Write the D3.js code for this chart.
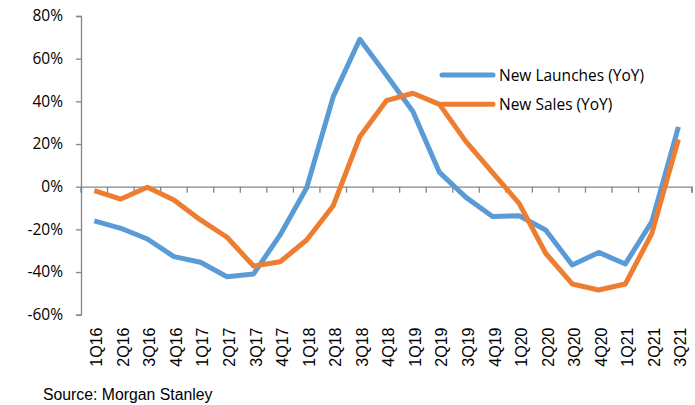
<!DOCTYPE html>
<html>
<head>
<meta charset="utf-8">
<script src="https://cdn.jsdelivr.net/npm/d3@7"></script>
<style>
  body { margin: 0; background: #fff; }
  svg { display: block; }
</style>
</head>
<body>
<div id="chart"></div>
<script>
// quarters on the x axis
let quarters = ["1Q16","2Q16","3Q16","4Q16","1Q17","2Q17","3Q17","4Q17","1Q18","2Q18","3Q18","4Q18",
                "1Q19","2Q19","3Q19","4Q19","1Q20","2Q20","3Q20","4Q20","1Q21","2Q21","3Q21"]

// YoY change in %
let newLaunches = [-16, -19.5, -24.5, -32.8, -35.4, -42.2, -40.9, -22.6, -0.5, 42.2, 69.1, 52.4,
                   35.2, 6.7, -5, -14, -13.6, -20.3, -36.7, -30.8, -36.2, -16.4, 28]
let newSales = [-1.9, -5.8, -0.3, -6.2, -15.6, -23.7, -37.2, -35.2, -25, -8.9, 23.4, 40.3,
                43.8, 38.6, 21.1, 6.6, -7.8, -31.2, -45.6, -48.4, -45.6, -21.9, 22.2]

let yTicks = [80, 60, 40, 20, 0, -20, -40, -60]

let seriesNames = ["New Launches (YoY)", "New Sales (YoY)"]
let colors = ["#5b9bd5", "#ed7d31"]

let width = 695, height = 405
let margin = {top: 16, left: 81, right: 3.3}

let svg = d3.select('#chart').append('svg')
    .attr('width', width)
    .attr('height', height)

let x = d3.scaleBand()
    .domain(quarters)
    .range([margin.left, width - margin.right])

let y = d3.scaleLinear()
    .domain([-60, 80])
    .range([314.7, margin.top])

let axisColor = "#868686"

// y axis
let yAxis = svg.append('g')
    .attr('transform', "translate(" + margin.left + ",0)")
    .call(d3.axisLeft(y).tickValues(yTicks).tickFormat(d => d + "%").tickSize(5).tickPadding(13))
yAxis.select('.domain').attr('stroke', axisColor).attr('stroke-width', 1.3)
yAxis.selectAll('.tick line').attr('stroke', axisColor).attr('stroke-width', 1.3)
yAxis.selectAll('text')
    .attr('fill', '#000')
    .style('font-family', '"Open Sans", sans-serif')
    .style('font-size', '15.5px')

// horizontal zero line with ticks pointing down
let xAxis = svg.append('g')
    .attr('transform', "translate(0," + y(0) + ")")
    .call(d3.axisBottom(x).tickSize(6).tickSizeOuter(6).tickFormat(''))
xAxis.select('.domain').attr('stroke', axisColor).attr('stroke-width', 1.3)
xAxis.selectAll('.tick line')
    .attr('stroke', axisColor).attr('stroke-width', 1.3)
    .attr('transform', "translate(" + (-x.bandwidth() / 2) + ",0)")
xAxis.append('line')
    .attr('x1', width - margin.right).attr('x2', width - margin.right)
    .attr('y1', 0).attr('y2', 6)
    .attr('stroke', axisColor).attr('stroke-width', 1.3)

// category labels at the bottom, rotated
svg.append('g')
    .selectAll('text')
    .data(quarters)
    .enter().append('text')
    .attr('transform', d => "translate(" + (x(d) + x.bandwidth() / 2 + 8) + ",327.5) rotate(-90)")
    .attr('text-anchor', 'end')
    .style('font-family', '"Liberation Sans", Arial, sans-serif')
    .style('font-size', '16px')
    .attr('fill', '#000')
    .text(d => d)

// lines
let line = d3.line()
    .x((d, i) => x(quarters[i]) + x.bandwidth() / 2)
    .y(d => y(d))

;[newLaunches, newSales].forEach((vals, i) => {
    svg.append('path')
        .datum(vals)
        .attr('fill', 'none')
        .attr('stroke', colors[i])
        .attr('stroke-width', 5)
        .attr('stroke-linejoin', 'round')
        .attr('d', line)
})

// legend
let legend = svg.append('g')
seriesNames.forEach((name, i) => {
    let ly = 75 + i * 29.3
    legend.append('line')
        .attr('x1', 442).attr('x2', 493)
        .attr('y1', ly).attr('y2', ly)
        .attr('stroke', colors[i])
        .attr('stroke-width', 5)
        .attr('stroke-linecap', 'round')
    legend.append('text')
        .attr('x', 499).attr('y', ly + 5.5)
        .style('font-family', '"Open Sans", sans-serif')
        .style('font-size', '15.5px')
        .attr('fill', '#000')
        .text(name)
})

// source note
svg.append('text')
    .attr('x', 43).attr('y', 400)
    .style('font-family', '"Liberation Sans", Arial, sans-serif')
    .style('font-size', '15.8px')
    .attr('fill', '#000')
    .text("Source: Morgan Stanley")
</script>
</body>
</html>
